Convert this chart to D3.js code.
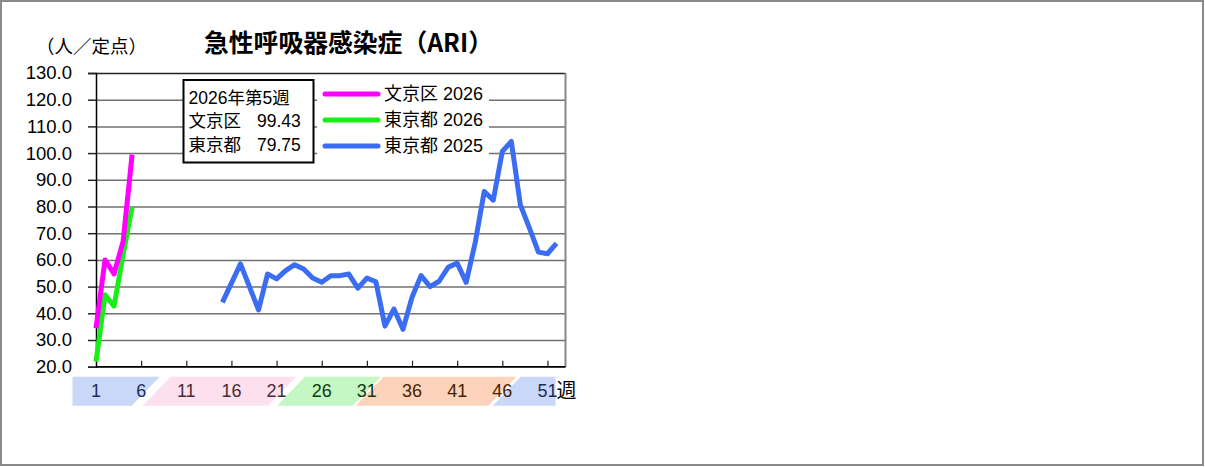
<!DOCTYPE html>
<html>
<head>
<meta charset="utf-8">
<script src="https://cdn.jsdelivr.net/npm/d3@7"></script>
<style>
  body { margin: 0; background: #fff; }
  svg text { font-family: "Liberation Sans", "Noto Sans CJK JP", sans-serif; }
</style>
</head>
<body>
<div id="chart"></div>
<script>
// ---- data ----
var titleText = "急性呼吸器感染症（ARI）";
var unitText = "（人／定点）";
var yTicks = [20, 30, 40, 50, 60, 70, 80, 90, 100, 110, 120, 130];
var xTickWeeks = [1, 6, 11, 16, 21, 26, 31, 36, 41, 46, 51];

var bunkyo2026Start = 1;
var bunkyo2026 = [34.4, 60.0, 54.8, 66.9, 99.43];
var tokyo2026Start = 1;
var tokyo2026 = [21.9, 46.9, 42.7, 61.9, 79.75];
var tokyo2025Start = 15;
var tokyo2025 = [44.1, 51.3, 58.5, 49.9, 41.3, 54.7, 52.9, 56.0, 58.2, 56.6,
                 53.2, 51.6, 54.1, 54.1, 54.7, 49.4, 53.2, 51.8, 35.2, 41.6,
                 34.0, 46.0, 54.1, 50.0, 52.0, 57.2, 58.8, 51.6, 66.5, 85.6,
                 82.4, 100.6, 104.4, 80.6, 72.0, 62.9, 62.3, 66.2];

var seriesNames = ["文京区 2026", "東京都 2026", "東京都 2025"];
var seriesColors = ["#ff00ff", "#18ee18", "#3b6cf4"];

var infoLines = [["2026年第5週", ""], ["文京区", "99.43"], ["東京都", "79.75"]];

// season bands along the week axis (in week units)
var seasonFrom = [-1.6, 7.7, 22.6, 31.3, 46.5];
var seasonTo = [6.5, 21.6, 31.0, 46.0, 51.9];
var seasonFill = ["#c9d8f8", "#fde0ee", "#c4f7c4", "#fdd3bb", "#c9d8f8"];
var seasonText = ["#1c2c5c", "#4a2a36", "#0c3a0c", "#4a2200", "#1c2c5c"];

// ---- drawing ----
var W = 1205, H = 467;
var svg = d3.select("#chart").append("svg")
    .attr("width", W).attr("height", H);

svg.append("rect")
    .attr("x", 1).attr("y", 1).attr("width", W - 3).attr("height", H - 3)
    .attr("fill", "#fff").attr("stroke", "#8a8a8a").attr("stroke-width", 2);

var x = d3.scaleLinear().domain([1, 53]).range([96, 565.5]);
var y = d3.scaleLinear().domain([20, 130]).range([366.7, 73]);

// gridlines via axis
var grid = svg.append("g")
    .attr("transform", "translate(" + x(1) + ",0)")
    .call(d3.axisLeft(y).tickValues(yTicks)
        .tickSize(-(x(53) - x(1))).tickFormat(""));
grid.select(".domain").remove();
grid.selectAll(".tick line")
    .attr("stroke", d => d === 130 ? "#222" : "#707070")
    .attr("stroke-width", 1.5);

// outside tick marks + labels
var yAxis = svg.append("g")
    .attr("transform", "translate(" + x(1) + ",0)")
    .call(d3.axisLeft(y).tickValues(yTicks).tickSize(8).tickPadding(16)
        .tickFormat(d3.format(".1f")));
yAxis.select(".domain").attr("stroke", "#000").attr("stroke-width", 1.5);
yAxis.selectAll(".tick line").attr("stroke", "#222").attr("stroke-width", 1.5);
yAxis.selectAll("text")
    .attr("font-size", 18.5).attr("fill", "#000")
    .style("font-family", "'Liberation Sans', sans-serif");

// right border of plot
svg.append("line")
    .attr("x1", x(53)).attr("x2", x(53)).attr("y1", y(130)).attr("y2", y(20))
    .attr("stroke", "#888").attr("stroke-width", 2);

// season bands
var bandTop = 376.7, bandH = 29, slant = 14;
seasonFrom.forEach(function(f, i) {
  var l = x(f), r = x(seasonTo[i]);
  var lt = i === 0 ? l : l + slant, lb = i === 0 ? l : l - slant;
  var rt = i === seasonFrom.length - 1 ? r : r + slant;
  var rb = i === seasonFrom.length - 1 ? r : r - slant;
  svg.append("path")
      .attr("d", "M" + lt + "," + bandTop + "L" + rt + "," + bandTop +
                 "L" + rb + "," + (bandTop + bandH) + "L" + lb + "," + (bandTop + bandH) + "Z")
      .attr("fill", seasonFill[i]);
});

// x axis
var xAxis = svg.append("g")
    .attr("transform", "translate(0," + y(20) + ")")
    .call(d3.axisTop(x).tickValues(xTickWeeks.slice(1)).tickSize(6).tickFormat(""));
xAxis.select(".domain").attr("stroke", "#000").attr("stroke-width", 1.5)
    .attr("d", "M" + x(1) + ",0H" + x(53));
xAxis.selectAll(".tick line").attr("stroke", "#222").attr("stroke-width", 1.2);

function seasonOf(w) {
  for (var i = 0; i < seasonFrom.length; i++) if (w <= seasonTo[i]) return i;
  return seasonFrom.length - 1;
}
svg.selectAll(".xlab").data(xTickWeeks).enter().append("text")
    .attr("class", "xlab")
    .attr("x", d => x(d)).attr("y", 391)
    .attr("dy", "0.35em").attr("text-anchor", "middle")
    .attr("font-size", 18)
    .attr("fill", d => seasonText[seasonOf(d)])
    .text(d => d);
svg.append("text")
    .attr("x", x(51) + 9).attr("y", 391).attr("dy", "0.36em")
    .attr("font-size", 20).attr("fill", "#000")
    .style("font-family", "'Noto Sans CJK JP', sans-serif")
    .text("週");

// lines
var line = d3.line()
    .x(d => x(d.w)).y(d => y(d.v));
function toPoints(start, vals) {
  return vals.map((v, i) => ({ w: start + i, v: v }));
}
var series = [
  toPoints(tokyo2025Start, tokyo2025),
  toPoints(tokyo2026Start, tokyo2026),
  toPoints(bunkyo2026Start, bunkyo2026)
];
var seriesColorByDraw = [seriesColors[2], seriesColors[1], seriesColors[0]];
series.forEach(function(pts, i) {
  svg.append("path")
      .datum(pts)
      .attr("d", line)
      .attr("fill", "none")
      .attr("stroke", seriesColorByDraw[i])
      .attr("stroke-width", 5)
      .attr("stroke-linejoin", "round")
      .attr("stroke-linecap", "butt");
});

// info box
svg.append("rect")
    .attr("x", 183.5).attr("y", 80).attr("width", 130).attr("height", 82.5)
    .attr("fill", "#fff").attr("stroke", "#000").attr("stroke-width", 2);
infoLines.forEach(function(row, i) {
  svg.append("text")
      .attr("x", 188.5).attr("y", 97.5 + i * 23.5).attr("dy", "0.36em")
      .attr("font-size", 17.5).attr("fill", "#000")
      .text(row[0]);
  if (row[1]) {
    svg.append("text")
        .attr("x", 257).attr("y", 97.5 + i * 23.5).attr("dy", "0.36em")
        .attr("font-size", 17.5).attr("fill", "#000")
        .text(row[1]);
  }
});

// legend
svg.append("rect")
    .attr("x", 317).attr("y", 83).attr("width", 172).attr("height", 76)
    .attr("fill", "#fff");
seriesNames.forEach(function(name, i) {
  var ly = 94 + i * 26;
  svg.append("line")
      .attr("x1", 325).attr("x2", 378).attr("y1", ly).attr("y2", ly)
      .attr("stroke", seriesColors[i]).attr("stroke-width", 5)
      .attr("stroke-linecap", "round");
  svg.append("text")
      .attr("x", 384).attr("y", ly).attr("dy", "0.36em")
      .attr("font-size", 18).attr("fill", "#000")
      .text(name);
});

// titles
svg.append("text")
    .attr("x", 204).attr("y", 43).attr("dy", "0.36em")
    .attr("font-size", 24.8).attr("font-weight", "bold").attr("fill", "#000")
    .style("font-family", "'Noto Sans CJK JP', sans-serif")
    .text(titleText);
svg.append("text")
    .attr("x", 36).attr("y", 46.5).attr("dy", "0.36em")
    .attr("font-size", 18.5).attr("fill", "#000")
    .style("font-family", "'Noto Sans CJK JP', sans-serif")
    .text(unitText);
</script>
</body>
</html>
